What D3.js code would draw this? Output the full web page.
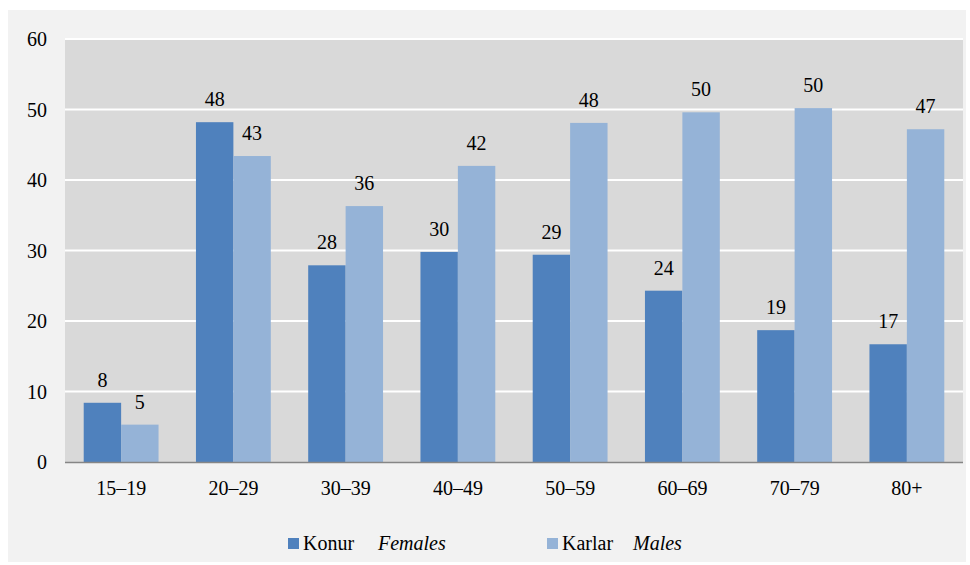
<!DOCTYPE html>
<html>
<head>
<meta charset="utf-8">
<script src="https://cdn.jsdelivr.net/npm/d3@7"></script>
<style>
  body { margin: 0; background: #fff; }
</style>
</head>
<body>
<script>
// age groups and shares (%)
var ageGroups = ["15–19", "20–29", "30–39", "40–49", "50–59", "60–69", "70–79", "80+"];
var females = [8.4, 48.2, 27.9, 29.8, 29.4, 24.3, 18.7, 16.7];
var males = [5.3, 43.4, 36.3, 42.0, 48.1, 49.6, 50.2, 47.2];
var yTicks = [0, 10, 20, 30, 40, 50, 60];

var series = [
  { name: "Konur", en: "Females", values: females, color: "#4f81bd" },
  { name: "Karlar", en: "Males", values: males, color: "#95b3d7" }
];

var FONT = "Liberation Serif";
var W = 970, H = 565;
var plot = { left: 65, right: 963, top: 39, bottom: 462 };

var svg = d3.select("body").append("svg")
    .attr("width", W)
    .attr("height", H);

// text helper: straight onto the svg, serif forced inline
function label(xp, yp, str) {
  return svg.append("text")
      .attr("x", xp)
      .attr("y", yp)
      .attr("font-family", FONT)
      .attr("font-size", "20px")
      .style("font-family", FONT, "important")
      .text(str);
}

// outer chart area
svg.append("rect")
    .attr("x", 8).attr("y", 10)
    .attr("width", 958).attr("height", 552)
    .attr("fill", "#f2f2f2");

// plot area
svg.append("rect")
    .attr("x", plot.left).attr("y", plot.top)
    .attr("width", plot.right - plot.left).attr("height", plot.bottom - plot.top)
    .attr("fill", "#d9d9d9");

var x = d3.scaleBand()
    .domain(ageGroups)
    .range([plot.left, plot.right]);

var y = d3.scaleLinear()
    .domain([0, 60])
    .range([plot.bottom, plot.top]);

var barW = x.bandwidth() / 3;

// gridlines
svg.append("g").selectAll("line")
    .data(yTicks.filter(function(d) { return d > 0; }))
  .enter().append("line")
    .attr("x1", plot.left).attr("x2", plot.right)
    .attr("y1", function(d) { return y(d); })
    .attr("y2", function(d) { return y(d); })
    .attr("stroke", "#fff")
    .attr("stroke-width", 2);

// y tick labels
yTicks.forEach(function(d) {
  label(47, y(d), d).attr("dy", "0.35em").attr("text-anchor", "end");
});

// bars + labels
series.forEach(function(s, si) {
  svg.append("g").selectAll("rect")
      .data(s.values)
    .enter().append("rect")
      .attr("x", function(d, i) { return x(ageGroups[i]) + barW / 2 + si * barW; })
      .attr("y", function(d) { return y(d); })
      .attr("width", barW)
      .attr("height", function(d) { return y(0) - y(d); })
      .attr("fill", s.color);

  s.values.forEach(function(d, i) {
    label(x(ageGroups[i]) + barW / 2 + si * barW + barW / 2, y(d) - 16, Math.round(d))
        .attr("text-anchor", "middle");
  });
});

// x axis line
svg.append("line")
    .attr("x1", plot.left).attr("x2", plot.right)
    .attr("y1", plot.bottom + 0.5).attr("y2", plot.bottom + 0.5)
    .attr("stroke", "#868686")
    .attr("stroke-width", 1.5);

// x labels
ageGroups.forEach(function(d) {
  label(x(d) + x.bandwidth() / 2, 495, d).attr("text-anchor", "middle");
});

// legend
var legendX = [288, 547];
series.forEach(function(s, i) {
  svg.append("rect")
      .attr("x", legendX[i]).attr("y", 538)
      .attr("width", 11).attr("height", 11)
      .attr("fill", s.color);
  label(legendX[i] + 15, 550, s.name);
  label(legendX[i] + (i === 0 ? 90 : 86), 550, s.en).attr("font-style", "italic");
});
</script>
</body>
</html>
